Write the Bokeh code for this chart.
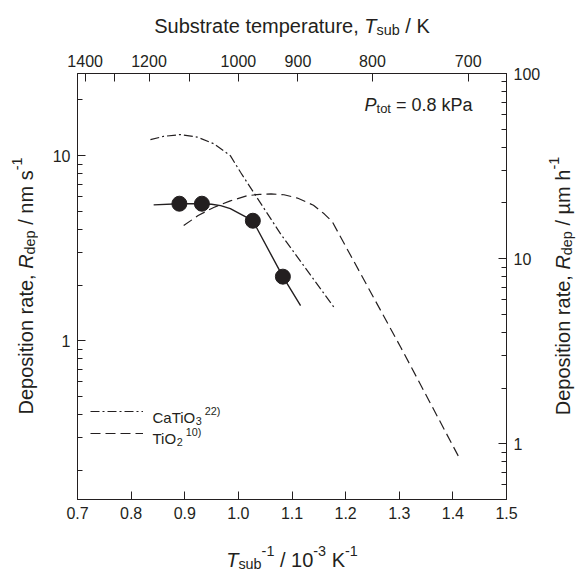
import math
from bokeh.plotting import figure
from bokeh.layouts import row, column
from bokeh.models import (Range1d, LogScale, LogAxis, LinearAxis, FixedTicker,
                          CustomJSTickFormatter, PrintfTickFormatter, Label,
                          Legend, LegendItem)
from bokeh.embed import file_html
from bokeh.resources import INLINE

# ---------------- data (x: 1/T in 10^-3 K^-1, y: deposition rate in nm/s) ----------------
rate_x = [0.890, 0.932, 1.027, 1.083]
rate_y = [5.50, 5.50, 4.45, 2.22]

fit_x = [0.842, 0.890, 0.930, 0.950, 0.967, 0.985, 0.998, 1.012, 1.027, 1.083, 1.116]
fit_y = [5.42, 5.50, 5.50, 5.46, 5.37, 5.17, 4.94, 4.70, 4.45, 2.22, 1.55]

catio3_x = [0.836, 0.860, 0.892, 0.923, 0.954, 0.985, 1.004, 1.079, 1.181]
catio3_y = [12.2, 12.7, 13.0, 12.6, 11.6, 10.0, 8.13, 3.77, 1.48]

tio2_x = [0.898, 0.925, 0.954, 0.985, 1.017, 1.040, 1.061, 1.085, 1.110, 1.140, 1.160, 1.175, 1.303, 1.410]
tio2_y = [4.19, 4.75, 5.25, 5.70, 6.08, 6.18, 6.21, 6.15, 5.90, 5.40, 4.85, 4.40, 0.92, 0.239]

x_ticks = [0.7, 0.8, 0.9, 1.0, 1.1, 1.2, 1.3, 1.4, 1.5]
top_temps = [1400, 1300, 1200, 1100, 1000, 900, 800, 700]
top_labels = ["1400", "", "1200", "", "1000", "900", "800", "700"]
left_major = [1, 10]
left_minor = [0.2, 0.3, 0.4, 0.5, 0.6, 0.7, 0.8, 0.9, 2, 3, 4, 5, 6, 7, 8, 9, 20]
right_major = [1, 10, 100]
right_minor = [0.6, 0.7, 0.8, 0.9, 2, 3, 4, 5, 6, 7, 8, 9, 20, 30, 40, 50, 60, 70, 80, 90]
NM_S_TO_UM_H = 3.6
right_lo, right_hi = 0.5, 100.0

INK = "#231f20"
FONT = "Liberation Sans"

# ---------------- main plot ----------------
p = figure(width=506, height=497, title=None,
           x_range=Range1d(0.7, 1.5),
           y_range=Range1d(right_lo / NM_S_TO_UM_H, right_hi / NM_S_TO_UM_H),
           y_axis_type="log", output_backend="svg", toolbar_location=None,
           min_border_left=39, min_border_right=38, min_border_top=33, min_border_bottom=38)
p.outline_line_color = INK
p.outline_line_width = 1
p.xgrid.grid_line_color = None
p.ygrid.grid_line_color = None

def style_axis(ax):
    ax.axis_line_color = INK
    ax.major_tick_in = 8
    ax.major_tick_out = 0
    ax.minor_tick_in = 5
    ax.minor_tick_out = 0
    ax.major_tick_line_color = INK
    ax.minor_tick_line_color = INK
    ax.major_label_text_font = FONT
    ax.major_label_text_font_size = "16px"
    ax.major_label_text_color = INK
    ax.major_label_standoff = 7

xa = p.xaxis[0]
xa.ticker = FixedTicker(ticks=x_ticks)
xa.formatter = PrintfTickFormatter(format="%.1f")
style_axis(xa)

ya = p.yaxis[0]
ya.ticker = FixedTicker(ticks=left_major, minor_ticks=left_minor)
ya.formatter = CustomJSTickFormatter(code="return String(tick);")
style_axis(ya)

p.extra_y_ranges = {"uh": Range1d(right_lo, right_hi)}
p.extra_y_scales = {"uh": LogScale()}
ra = LogAxis(y_range_name="uh",
             ticker=FixedTicker(ticks=right_major, minor_ticks=right_minor),
             formatter=CustomJSTickFormatter(code="return String(tick);"))
style_axis(ra)
p.add_layout(ra, "right")

ta = LinearAxis(ticker=FixedTicker(ticks=[1000.0 / T for T in top_temps]),
                formatter=CustomJSTickFormatter(args=dict(temps=top_temps, labels=top_labels), code="""
const T = 1000 / tick;
for (let i = 0; i < temps.length; i++) {
  if (Math.abs(temps[i] - T) < 1) { return labels[i]; }
}
return "";
"""))
style_axis(ta)
p.add_layout(ta, "above")

r_ca = p.line(catio3_x, catio3_y, line_dash="9 3 2 3", line_width=1.2, color=INK)
r_ti = p.line(tio2_x, tio2_y, line_dash="10 5", line_width=1.2, color=INK)
p.line(fit_x, fit_y, line_width=1.4, color=INK)
p.scatter(rate_x, rate_y, size=15, color=INK)

legend = Legend(items=[LegendItem(label=" ", renderers=[r_ca]),
                       LegendItem(label=" ", renderers=[r_ti])],
                location=(13, 55), glyph_width=53, glyph_height=22, label_height=22,
                spacing=0, padding=0, margin=0, label_standoff=8,
                border_line_color=None, background_fill_alpha=0,
                label_text_font=FONT, label_text_font_size="14px")
p.add_layout(legend)

# ---------------- rich text helper ----------------
W = {' ': 278, ',': 278, '.': 278, '/': 278, '-': 333, '=': 584, '(': 333, ')': 333,
     '0': 556, '1': 556, '2': 556, '3': 556, '4': 556, '5': 556, '6': 556, '7': 556, '8': 556, '9': 556,
     'S': 667, 'T': 611, 'K': 667, 'P': 667, 'R': 722, 'D': 722, 'C': 722, 'O': 778,
     'a': 556, 'b': 556, 'c': 500, 'd': 556, 'e': 556, 'h': 556, 'i': 222, 'k': 500, 'l': 222,
     'm': 833, 'n': 556, 'o': 556, 'p': 556, 'r': 333, 's': 500, 't': 278, 'u': 556, 'µ': 576}

def tw(s, size):
    return sum(W.get(c, 556) for c in s) * size / 1000.0

SCALE = {"n": 1.0, "i": 1.0, "sub": 0.72, "sup": 0.72}
SHIFT = {"n": 0.0, "i": 0.0, "sub": -0.24, "sup": 0.42}

def rich(fig, segments, x, y, size, angle=0.0, align="left"):
    total = sum(tw(t, size * SCALE[k]) for t, k in segments)
    adv = {"left": 0.0, "center": -total / 2.0, "right": -total}[align]
    ux, uy = math.cos(angle), math.sin(angle)
    nx, ny = -math.sin(angle), math.cos(angle)
    for t, k in segments:
        s = size * SCALE[k]
        lead = len(t) - len(t.lstrip(' '))
        adv += tw(' ' * lead, s)
        body = t.strip(' ')
        off = SHIFT[k] * size
        if body:
            fig.add_layout(Label(x=x + adv * ux + off * nx, y=y + adv * uy + off * ny,
                                 x_units="screen", y_units="screen", text=body, angle=angle,
                                 text_font=FONT, text_font_size=f"{s:.1f}px",
                                 text_font_style="italic" if k == "i" else "normal",
                                 text_baseline="alphabetic", text_align="left", text_color=INK))
        adv += tw(t.lstrip(' '), s)

def text_panel(w, h):
    f = figure(width=w, height=h, x_range=Range1d(0, 1), y_range=Range1d(0, 1),
               x_axis_location=None, y_axis_location=None, title=None,
               output_backend="svg", toolbar_location=None,
               min_border_left=0, min_border_right=0, min_border_top=0, min_border_bottom=0)
    f.outline_line_color = None
    f.xgrid.grid_line_color = None
    f.ygrid.grid_line_color = None
    return f

top_p = text_panel(506, 40)
bottom_p = text_panel(506, 36)
left_p = text_panel(38, 573)
right_p = text_panel(34, 573)

# top/bottom panels share the main plot's frame alignment: x is measured from frame left (canvas x=77)
rich(top_p, [("Substrate temperature, ", "n"), ("T", "i"), ("sub", "sub"), (" / K", "n")],
     214.5, 15, 20, align="center")
rich(bottom_p, [("T", "i"), ("sub", "sub"), ("-1", "sup"), (" / 10", "n"), ("-3", "sup"),
                (" K", "n"), ("-1", "sup")], 214.5, 14, 20, align="center")
rich(left_p, [("Deposition rate, ", "n"), ("R", "i"), ("dep", "sub"), (" / nm s", "n"), ("-1", "sup")],
     25, 287.5, 20, angle=math.pi / 2, align="center")
rich(right_p, [("Deposition rate, ", "n"), ("R", "i"), ("dep", "sub"), (" / µm h", "n"), ("-1", "sup")],
     18, 287.5, 20, angle=math.pi / 2, align="center")

# texts inside the plot frame
rich(p, [("P", "i"), ("tot", "sub"), (" = 0.8 kPa", "n")], 395, 395, 18, align="right")
rich(p, [("CaTiO", "n"), ("3", "sub"), (" 22)", "sup")], 75, 82, 15)
rich(p, [("TiO", "n"), ("2", "sub"), (" 10)", "sup")], 75, 61, 15)

layout = row(left_p, column(top_p, p, bottom_p), right_p)
open("out.html", "w").write(file_html(layout, INLINE))
